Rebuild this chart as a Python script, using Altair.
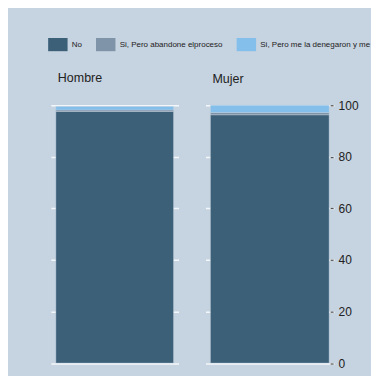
import altair as alt
import pandas as pd

genders = ["Hombre", "Mujer"]
categories = ["No", "Si, Pero abandone elproceso", "Si, Pero me la denegaron y me devolvieron el dinero"]
hombre_vals = [97.6, 0.6, 1.3]
mujer_vals = [96.3, 0.9, 2.8]
colors = ["#3d6079", "#7f94a8", "#83bfea"]
y_ticks = [0, 20, 40, 60, 80, 100]

rows = []
for g, vals in zip(genders, [hombre_vals, mujer_vals]):
    for i, (c, v) in enumerate(zip(categories, vals)):
        rows.append({"gender": g, "category": c, "value": v, "idx": i})
df = pd.DataFrame(rows)

FONT = "Liberation Sans"
BG = "#c6d3e0"


def panel(g, width, bar_w, right_axis, title_offset):
    d = df[df.gender == g]
    if right_axis:
        yaxis = alt.Axis(orient="right", values=y_ticks, grid=True, gridColor="#f4f7fa", gridWidth=1.5,
                         domain=False, ticks=True, tickSize=3, tickColor="#555555", tickWidth=1.2,
                         labels=True, labelFontSize=12, labelColor="#222222", labelFont=FONT,
                         labelPadding=5, offset=-4, title=None)
    else:
        yaxis = alt.Axis(values=y_ticks, grid=True, gridColor="#f4f7fa", gridWidth=1.5,
                         domain=False, ticks=False, labels=False, title=None)
    return alt.Chart(d).mark_bar(width=bar_w, stroke="#c6d3e0", strokeWidth=0.4).encode(
        x=alt.X("gender:N", axis=None),
        y=alt.Y("value:Q", stack="zero", scale=alt.Scale(domain=[0, 100], nice=False), axis=yaxis),
        color=alt.Color("category:N", scale=alt.Scale(domain=categories, range=colors),
                        legend=alt.Legend(title=None, orient="none", legendX=-3, legendY=-71,
                                          direction="horizontal",
                                          symbolType="M-1,-0.68H1V0.68H-1Z", symbolSize=380,
                                          symbolStrokeWidth=0, symbolOpacity=1,
                                          labelFontSize=8, labelFont=FONT, labelColor="#222222",
                                          labelExpr="substring(datum.label, 0, 30)",
                                          labelLimit=200, labelOffset=4, columnPadding=13,
                                          padding=0)),
        order=alt.Order("idx:Q", sort="ascending"),
    ).properties(
        width=width, height=258.6,
        title=alt.TitleParams(g, anchor="start", dx=7, fontSize=12.5, font=FONT, color="#222222",
                              fontWeight="normal", baseline="alphabetic", offset=title_offset),
    )


c1 = panel("Hombre", 128, 118, False, 11)
c2 = panel("Mujer", 129, 119, True, 4)

chart = alt.hconcat(c1, c2, spacing=27).properties(
    background=BG,
    padding={"left": 40, "top": 26, "right": 0, "bottom": 6},
).configure_view(stroke=None)

chart.save("out.html", embed_options={"renderer": "svg", "actions": False})
